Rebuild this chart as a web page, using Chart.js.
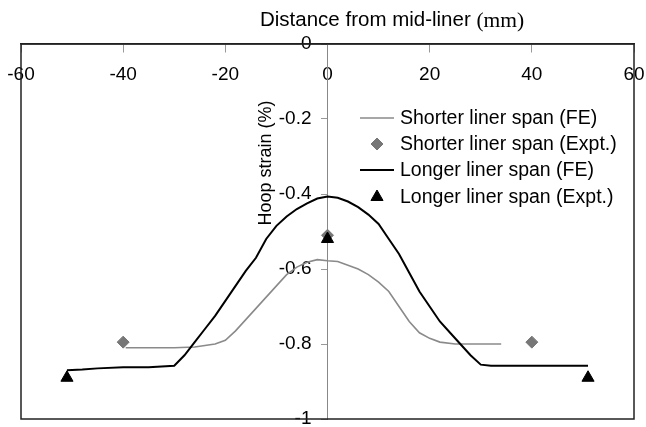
<!DOCTYPE html>
<html>
<head>
<meta charset="utf-8">
<script src="https://cdn.jsdelivr.net/npm/chart.js@4.4.1/dist/chart.umd.min.js"></script>
<style>
  html, body { margin: 0; padding: 0; background: #fff; }
  #wrap { position: relative; width: 646px; height: 427px; }
</style>
</head>
<body>
<div id="wrap"><canvas id="strain-chart"></canvas></div>
<script>
// Hoop strain vs distance from mid-liner
const xTicks = [-60, -40, -20, 0, 20, 40, 60];
const yTicks = [0, -0.2, -0.4, -0.6, -0.8, -1];

const shortFeX = [-39.5, -35, -30, -26, -22, -20, -18, -16, -14, -12, -10, -8, -6, -4, -2, 0, 2, 4, 6, 8, 10, 12, 14, 16, 18, 20, 22, 25, 30, 34];
const shortFeY = [-0.81, -0.81, -0.81, -0.808, -0.8, -0.79, -0.765, -0.735, -0.705, -0.675, -0.645, -0.615, -0.595, -0.582, -0.575, -0.578, -0.58, -0.59, -0.6, -0.615, -0.635, -0.66, -0.7, -0.74, -0.77, -0.785, -0.795, -0.8, -0.8, -0.8];

const shortExpX = [-40, 0, 40];
const shortExpY = [-0.795, -0.51, -0.795];

const longFeX = [-51, -48, -45, -40, -35, -30, -28, -26, -24, -22, -20, -18, -16, -14, -12, -10, -8, -6, -4, -2, 0, 2, 4, 6, 8, 10, 12, 14, 16, 18, 20, 22, 24, 26, 28, 30, 32, 36, 40, 45, 51];
const longFeY = [-0.87, -0.868, -0.865, -0.862, -0.862, -0.858, -0.83, -0.795, -0.76, -0.725, -0.685, -0.645, -0.605, -0.57, -0.52, -0.485, -0.46, -0.44, -0.425, -0.412, -0.407, -0.41, -0.42, -0.435, -0.455, -0.48, -0.52, -0.56, -0.61, -0.66, -0.7, -0.74, -0.77, -0.8, -0.83, -0.855, -0.858, -0.858, -0.858, -0.858, -0.858];

const longExpX = [-51, 0, 51];
const longExpY = [-0.89, -0.52, -0.89];

const seriesLabels = [
  "Shorter liner span (FE)",
  "Shorter liner span (Expt.)",
  "Longer liner span (FE)",
  "Longer liner span (Expt.)",
];

const FONT = "'Liberation Sans', Arial, sans-serif";

function pts(xs, ys) {
  return xs.map((x, i) => ({ x: x, y: ys[i] }));
}

// frame, axis titles and the legend inside the plot
const decorations = {
  id: "decorations",
  afterDraw(chart) {
    const ctx = chart.ctx;
    const a = chart.chartArea;
    ctx.save();
    ctx.strokeStyle = "#222";
    ctx.lineWidth = 1.5;
    ctx.strokeRect(a.left, a.top, a.right - a.left, a.bottom - a.top);

    // x title, "(mm)" in a serif face
    ctx.fillStyle = "#000";
    ctx.textBaseline = "middle";
    ctx.textAlign = "left";
    ctx.font = "20.5px " + FONT;
    const t1 = "Distance from mid-liner ";
    ctx.fillText(t1, 260, 20);
    const w1 = ctx.measureText(t1).width;
    ctx.font = "21.5px 'Liberation Serif', 'Times New Roman', serif";
    ctx.fillText("(mm)", 260 + w1, 21);

    // y title
    ctx.save();
    ctx.translate(266, 163);
    ctx.rotate(-Math.PI / 2);
    ctx.textAlign = "center";
    ctx.font = "18px " + FONT;
    ctx.fillText("Hoop strain (%)", 0, 0);
    ctx.restore();

    // legend
    const rows = [118, 144, 170, 197];
    chart.data.datasets.forEach((ds, i) => {
      const y = rows[i];
      if (ds.showLine) {
        ctx.strokeStyle = ds.borderColor;
        ctx.lineWidth = ds.borderWidth;
        ctx.beginPath();
        ctx.moveTo(360, y);
        ctx.lineTo(394, y);
        ctx.stroke();
      } else {
        ctx.fillStyle = ds.backgroundColor;
        ctx.strokeStyle = ds.borderColor;
        ctx.lineWidth = 1;
        Chart.helpers.drawPoint(ctx, {
          pointStyle: ds.pointStyle,
          radius: ds.pointRadius,
          borderWidth: 1,
          rotation: 0,
        }, 377, y);
      }
      ctx.fillStyle = "#000";
      ctx.font = "19.5px " + FONT;
      ctx.textAlign = "left";
      ctx.textBaseline = "middle";
      ctx.fillText(ds.label, 400, y + 1);
    });
    ctx.restore();
  },
};

const ctx = document.getElementById("strain-chart").getContext("2d");
new Chart(ctx, {
  type: "scatter",
  data: {
    datasets: [
      {
        label: seriesLabels[0],
        data: pts(shortFeX, shortFeY),
        showLine: true,
        borderColor: "#8a8a8a",
        borderWidth: 1.6,
        pointRadius: 0,
        tension: 0,
        order: 3,
      },
      {
        label: seriesLabels[1],
        data: pts(shortExpX, shortExpY),
        showLine: false,
        pointStyle: "rectRot",
        pointRadius: 6,
        backgroundColor: "#777",
        borderColor: "#777",
        order: 2,
      },
      {
        label: seriesLabels[2],
        data: pts(longFeX, longFeY),
        showLine: true,
        borderColor: "#000",
        borderWidth: 2,
        pointRadius: 0,
        tension: 0,
        order: 1,
      },
      {
        label: seriesLabels[3],
        data: pts(longExpX, longExpY),
        showLine: false,
        pointStyle: "triangle",
        pointRadius: 7,
        backgroundColor: "#000",
        borderColor: "#000",
        order: 0,
      },
    ],
  },
  options: {
    responsive: true,
    maintainAspectRatio: false,
    animation: false,
    layout: { padding: { left: 21, right: 12, top: 44, bottom: 8 } },
    plugins: {
      legend: { display: false },
      title: { display: false },
      tooltip: { enabled: false },
    },
    scales: {
      x: {
        type: "linear",
        position: { y: 0 },
        min: -60,
        max: 60,
        afterBuildTicks: (s) => { s.ticks = xTicks.map((v) => ({ value: v })); },
        afterFit: (s) => { s.paddingLeft = 0; s.paddingRight = 0; s.paddingTop = 0; s.paddingBottom = 0; },
        border: { display: true, color: "#222", width: 1.5 },
        grid: { drawOnChartArea: false, drawTicks: true, tickLength: 8, color: "#999" },
        ticks: { color: "#000", font: { family: FONT, size: 19 }, padding: 11, maxRotation: 0, autoSkip: false },
      },
      y: {
        type: "linear",
        // the range of x is symmetric, so the centre of the plot is x = 0
        position: "center",
        min: -1,
        max: 0,
        afterBuildTicks: (s) => { s.ticks = yTicks.map((v) => ({ value: v })); },
        afterFit: (s) => { s.paddingLeft = 0; s.paddingRight = 0; s.paddingTop = 0; s.paddingBottom = 0; },
        border: { display: true, color: "#888", width: 1 },
        grid: { drawOnChartArea: false, drawTicks: true, tickLength: 6, color: "#999" },
        ticks: {
          color: "#000",
          font: { family: FONT, size: 19 },
          padding: 10,
          autoSkip: false,
          callback: (v) => String(Math.round(v * 10) / 10),
        },
      },
    },
  },
  plugins: [decorations],
});
</script>
</body>
</html>
